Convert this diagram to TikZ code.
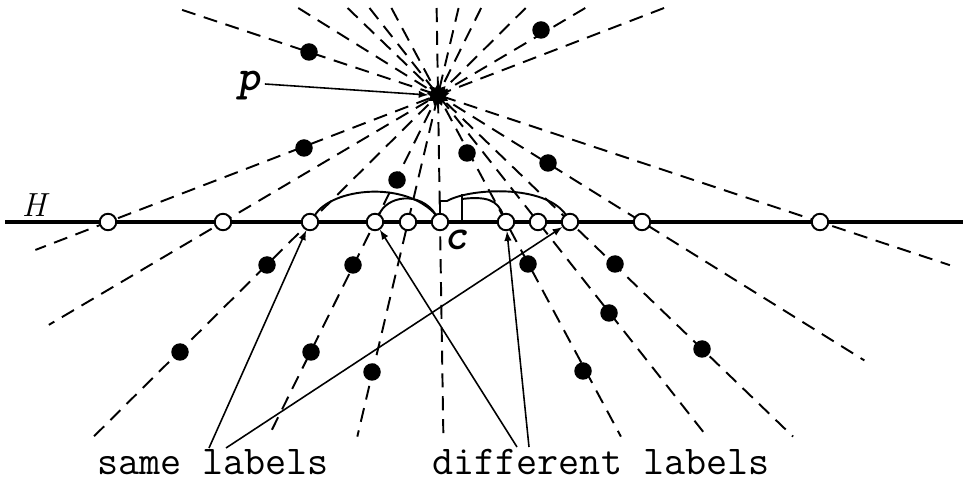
\documentclass[tikz,border=0pt]{standalone}
\usepackage{fontspec}
\usetikzlibrary{calc,shapes.geometric}

\begin{document}
\begin{tikzpicture}[x=0.02cm,y=-0.02cm]
  \tikzstyle{dot}=[circle,fill=black,inner sep=0pt,minimum size=0.35cm]
  \tikzstyle{hp}=[circle,draw=black,fill=white,line width=1.1pt,inner sep=0pt,minimum size=0.33cm]
  \tikzstyle{ray}=[line width=1.1pt,dash pattern=on 8pt off 5pt]
  \tikzstyle{lbl}=[font=\ttfamily\fontsize{23.3}{25}\selectfont,inner sep=0pt]
  \tikzstyle{bi}=[font=\ttfamily\bfseries\itshape\fontsize{25}{27}\selectfont,inner sep=0pt]
  \tikzstyle{ptr}=[-latex,line width=0.9pt]
  \useasboundingbox (0,0) rectangle (963,482);
  % le point p
  \coordinate (p) at (438,95);
  % rayons par p et les points de H
  \foreach \x/\a/\b [count=\i] in {108/-0.685/1.22, 223/-0.685/1.81, 310/-0.685/2.69,
      375/-0.685/2.69, 408/-0.685/2.69, 440/-0.685/2.69, 506/-0.685/2.69,
      538/-0.685/2.69, 570/-0.685/2.69, 642/-0.685/2.09, 820/-0.67/1.34}{
    \coordinate (h\i) at (\x,222);
    \draw[ray] ($(p)!\a!(h\i)$) -- ($(p)!\b!(h\i)$);
  }
  % la droite H
  \draw[line width=2.4pt] (5,222) -- (963,222);
  \node[font=\itshape\fontsize{19}{21}\selectfont,inner sep=0pt] (H) at (34,205) {H};
  % points noirs
  \foreach \x/\y [count=\i] in {309/52, 541/30, 304/148, 397/180, 467/153, 548/163,
      267/265, 180/352, 353/265, 311/352, 372/372, 528/264, 583/371, 609/313,
      615/264, 702/349}
    \node[dot] (d\i) at (\x,\y) {};
  % arcs au-dessus de H
  \draw[line width=1.1pt] (h3) ++(5,-7) .. controls (332,188) and (405,180) .. (436,215);
  \draw[line width=1.1pt] (h4) ++(4,-7) .. controls (386,196) and (420,190) .. (436,215);
  \draw[line width=1.1pt] (440,215) |- (447,201) .. controls (470,188) and (545,184) .. (566,215);
  \draw[line width=1.1pt] (462,222) -- (462,194);
  \draw[line width=1.1pt] (462,199) .. controls (486,196) and (498,200) .. (503,215);
  % cercles sur H
  \foreach \i in {1,...,11}
    \node[hp] (h\i) at (h\i) {};
  % p et c
  \node[star,star points=9,star point ratio=1.5,fill=black,inner sep=0pt,minimum size=0.46cm] (pp) at (p) {};
  \node[bi] (plbl) at (249,86) {p};
  \draw[ptr] (plbl.east) ++(4,-2) -- (pp.west);
  \node[bi] (clbl) at (456,240) {c};
  % legendes
  \node[lbl] (same) at (213,462) {same labels};
  \node[lbl] (diff) at (601,462) {different labels};
  \coordinate (s1) at (209,448);
  \coordinate (s2) at (226,448);
  \coordinate (t1) at (517,447);
  \coordinate (t2) at (529,447);
  \draw[ptr] (s1) -- (h3);
  \draw[ptr] (s2) -- (h9);
  \draw[ptr] (t1) -- (h4);
  \draw[ptr] (t2) -- (h7);
\end{tikzpicture}
\end{document}
